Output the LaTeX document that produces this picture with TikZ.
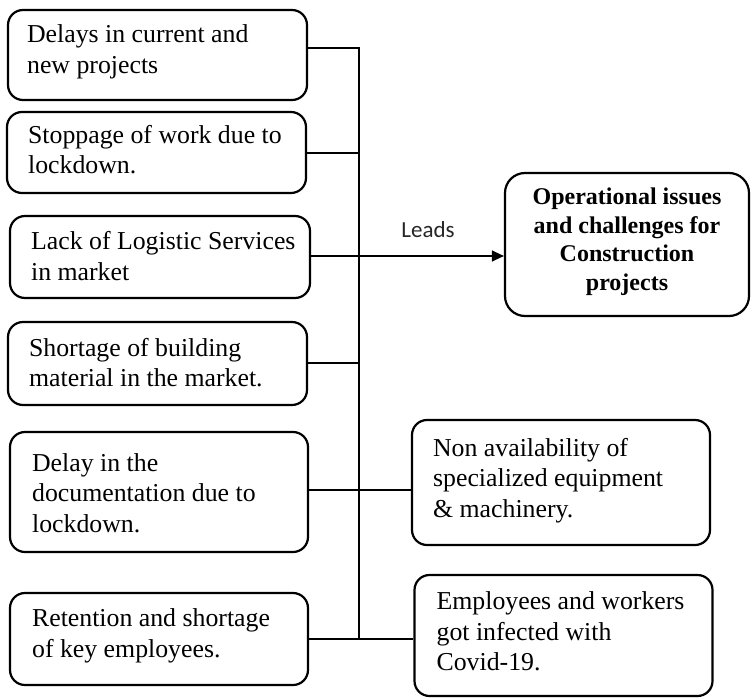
\documentclass[tikz,border=0pt]{standalone}
\usepackage{fontspec}
\setmainfont{Liberation Serif}
\newfontfamily\leadsfont{Carlito}
\usetikzlibrary{arrows.meta}
\begin{document}
\begin{tikzpicture}[x=1pt,y=-1pt,
  box/.style={draw, line width=2.2pt, rounded corners=15pt, inner sep=0pt},
  txt/.style={inner sep=0pt, align=left, anchor=west, font=\fontsize{25.8}{30.5}\selectfont},
  bold/.style={inner sep=0pt, align=center, font=\fontsize{24}{28.5}\selectfont\bfseries},
  wire/.style={line width=1.3pt},
  arr/.style={wire, -{Triangle[length=12pt,width=11pt]}}]
\useasboundingbox (0,0) rectangle (751,698);
% left boxes
\node[box, minimum width=299pt, minimum height=90pt] (b1) at (157.5,55) {};
\node[box, minimum width=299pt, minimum height=81pt] (b2) at (156.5,152.5) {};
\node[box, minimum width=300pt, minimum height=82pt] (b3) at (160,257) {};
\node[box, minimum width=299pt, minimum height=83pt] (b4) at (157.5,363.5) {};
\node[box, minimum width=298pt, minimum height=120pt] (b5) at (159,492) {};
\node[box, minimum width=298pt, minimum height=92pt] (b6) at (159,639) {};
% right boxes
\node[box, rounded corners=20pt, minimum width=244pt, minimum height=143pt] (op) at (627,244.5) {};
\node[box, minimum width=298pt, minimum height=125pt] (na) at (561,482.5) {};
\node[box, minimum width=298pt, minimum height=121pt] (em) at (563.5,635.5) {};
% texts
\node[txt] (t1) at ([xshift=20pt,yshift=3pt]b1.west) {Delays in current and\\new projects};
\node[txt] (t2) at ([xshift=22pt,yshift=3pt]b2.west) {Stoppage of work due to\\lockdown.};
\node[txt] (t3) at ([xshift=22pt,yshift=1pt]b3.west) {Lack of Logistic Services\\in market};
\node[txt] (t4) at ([xshift=22pt,yshift=1pt]b4.west) {Shortage of building\\material in the market.};
\node[txt] (t5) at ([xshift=23pt,yshift=-1pt]b5.west) {Delay in the\\documentation due to\\lockdown.};
\node[txt] (t6) at ([xshift=23pt,yshift=3pt]b6.west) {Retention and shortage\\of key employees.};
\node[txt] (t7) at ([xshift=22pt,yshift=2pt]na.west) {Non availability of\\specialized equipment\\\& machinery.};
\node[txt] (t8) at ([xshift=23pt,yshift=4pt]em.west) {Employees and workers\\got infected with\\Covid-19.};
\node[bold] (t9) at ([yshift=3pt]op.center) {Operational issues\\and challenges for\\Construction\\projects};
% bus
\coordinate (p1) at (359,48);
\coordinate (p2) at (359,153);
\coordinate (p3) at (359,256);
\coordinate (p4) at (359,363);
\coordinate (p5) at (359,490);
\coordinate (p6) at (359,639);
\draw[wire] (b1.east |- p1) -- (p1) -- (p6);
\draw[wire] (b2.east |- p2) -- (p2);
\draw[wire] (b4.east |- p4) -- (p4);
\draw[wire] (b5.east |- p5) -- (na.west |- p5);
\draw[wire] (b6.east |- p6) -- (em.west |- p6);
\draw[arr] (b3.east |- p3) -- (op.west |- p3);
\node[inner sep=0pt, anchor=base, font=\leadsfont\fontsize{23}{27}\selectfont, text=black!85] (lead) at (428,237) {Leads};
\end{tikzpicture}
\end{document}
